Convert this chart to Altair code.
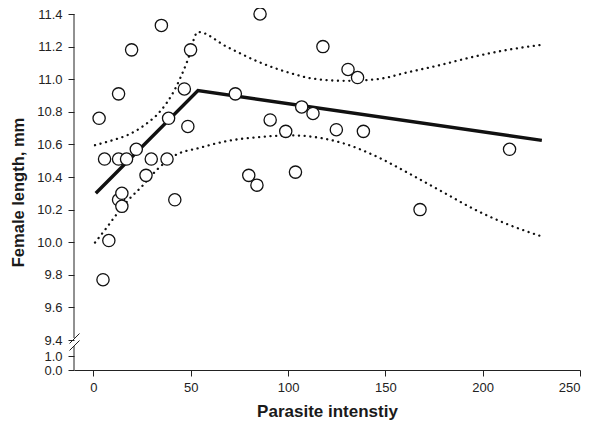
import altair as alt
import pandas as pd

# Observed points (parasite intensity, female length mm)
pts_x = [2.9, 4.9, 5.7, 7.9, 12.9, 12.9, 12.9, 14.6, 14.6, 17.0, 19.6, 22.0, 27.0, 29.7,
         34.9, 37.8, 38.6, 41.8, 46.7, 48.5, 49.9, 72.9, 79.8, 84.0, 85.6, 90.8, 98.8,
         103.8, 107.0, 112.8, 117.9, 124.8, 130.8, 135.7, 138.7, 167.8, 213.8]
pts_y = [10.76, 9.77, 10.51, 10.01, 10.91, 10.51, 10.26, 10.30, 10.22, 10.51, 11.18, 10.57,
         10.41, 10.51, 11.33, 10.51, 10.76, 10.26, 10.94, 10.71, 11.18, 10.91, 10.41, 10.35,
         11.40, 10.75, 10.68, 10.43, 10.83, 10.79, 11.20, 10.69, 11.06, 11.01, 10.68, 10.20,
         10.57]

# Broken-stick fit
fit_x = [1.2, 53.7, 230.4]
fit_y = [10.30, 10.93, 10.625]

# Upper confidence band
up_x = [0.8, 9.6, 18, 26.4, 34.8, 41.5, 48.2, 53.7, 68.4, 85.1, 101.9, 112, 128.8,
        145.6, 162.4, 179.2, 196, 212.8, 229.6]
up_y = [10.595, 10.625, 10.66, 10.72, 10.81, 10.93, 11.11, 11.29, 11.20, 11.105, 11.035,
        11.005, 10.99, 11.0, 11.045, 11.09, 11.14, 11.18, 11.21]

# Lower confidence band
lo_x = [0.8, 6.2, 11.2, 18, 24.7, 33.1, 41.5, 54.9, 68.4, 85.1, 101.9, 118.7, 128.8,
        145.6, 162.4, 179.2, 196, 212.8, 229.1]
lo_y = [9.998, 10.08, 10.16, 10.26, 10.34, 10.45, 10.53, 10.58, 10.62, 10.645, 10.655,
        10.635, 10.605, 10.525, 10.42, 10.31, 10.20, 10.11, 10.04]

x_ticks = [0, 50, 100, 150, 200, 250]
y_ticks = [0.0, 1.0, 9.4, 9.6, 9.8, 10.0, 10.2, 10.4, 10.6, 10.8, 11.0, 11.2, 11.4]

W, H = 506, 356
Y_ONE, Y_BRK = 342, 326   # pixel positions of 1.0 and 9.4 inside the plot

xscale = alt.Scale(domain=[-10, 250], nice=False, zero=False)
yscale = alt.Scale(domain=[0, 1, 9.4, 11.4], range=[H, Y_ONE, Y_BRK, 0], nice=False, zero=False)

xaxis = alt.Axis(title="Parasite intenstiy", values=x_ticks, grid=False, tickSize=6,
                 labelPadding=5, titlePadding=9, domainColor="#222", tickColor="#222")
yaxis = alt.Axis(title="Female length, mm", values=y_ticks, format=".1f", grid=False,
                 domain=False, tickSize=6, labelPadding=6, titlePadding=10, tickColor="#222")


def enc(xf, yf):
    return dict(x=alt.X(xf, type="quantitative", scale=xscale, axis=xaxis),
                y=alt.Y(yf, type="quantitative", scale=yscale, axis=yaxis))


pts = pd.DataFrame({"x": pts_x, "y": pts_y})
fit = pd.DataFrame({"x": fit_x, "y": fit_y})
up = pd.DataFrame({"x": up_x, "y": up_y})
lo = pd.DataFrame({"x": lo_x, "y": lo_y})
one = pd.DataFrame({"a": [0]})

dot_style = dict(color="#111", strokeWidth=2.3, strokeDash=[0.1, 5.6], strokeCap="round",
                 interpolate="monotone")

upper = alt.Chart(up).mark_line(**dot_style).encode(**enc("x", "y"))
lower = alt.Chart(lo).mark_line(**dot_style).encode(**enc("x", "y"))
fitl = alt.Chart(fit).mark_line(color="#111", strokeWidth=3.4).encode(**enc("x", "y"))
points = alt.Chart(pts).mark_circle(size=150, color="white", stroke="#111", strokeWidth=1.3,
                                    opacity=1).encode(**enc("x", "y"))

axis_style = dict(color="#222", strokeWidth=1)
ax_top = alt.Chart(one).mark_rule(**axis_style).encode(
    x=alt.value(0), y=alt.value(0), y2=alt.value(Y_BRK - 2))
ax_bot = alt.Chart(one).mark_rule(**axis_style).encode(
    x=alt.value(0), y=alt.value(Y_BRK + 6), y2=alt.value(H))
brk1 = alt.Chart(one).mark_rule(**axis_style).encode(
    x=alt.value(-4.5), x2=alt.value(5.5), y=alt.value(Y_BRK + 3.5), y2=alt.value(Y_BRK - 6.5))
brk2 = alt.Chart(one).mark_rule(**axis_style).encode(
    x=alt.value(-4.5), x2=alt.value(5.5), y=alt.value(Y_BRK + 10.5), y2=alt.value(Y_BRK + 0.5))

chart = alt.layer(upper, lower, fitl, points, ax_top, ax_bot, brk1, brk2).properties(
    width=W, height=H,
    autosize=alt.AutoSizeParams(type="none"),
    padding={"left": 66, "top": 6, "right": 12, "bottom": 52},
).configure_view(stroke=None).configure_axis(
    labelFont="Liberation Sans", labelFontSize=13, labelColor="#222",
    titleFont="Liberation Sans", titleFontWeight="bold", titleColor="#1a1a1a",
).configure_axisX(titleFontSize=17).configure_axisY(titleFontSize=16.5)

chart.save("out.html", embed_options={"renderer": "svg", "actions": False})
